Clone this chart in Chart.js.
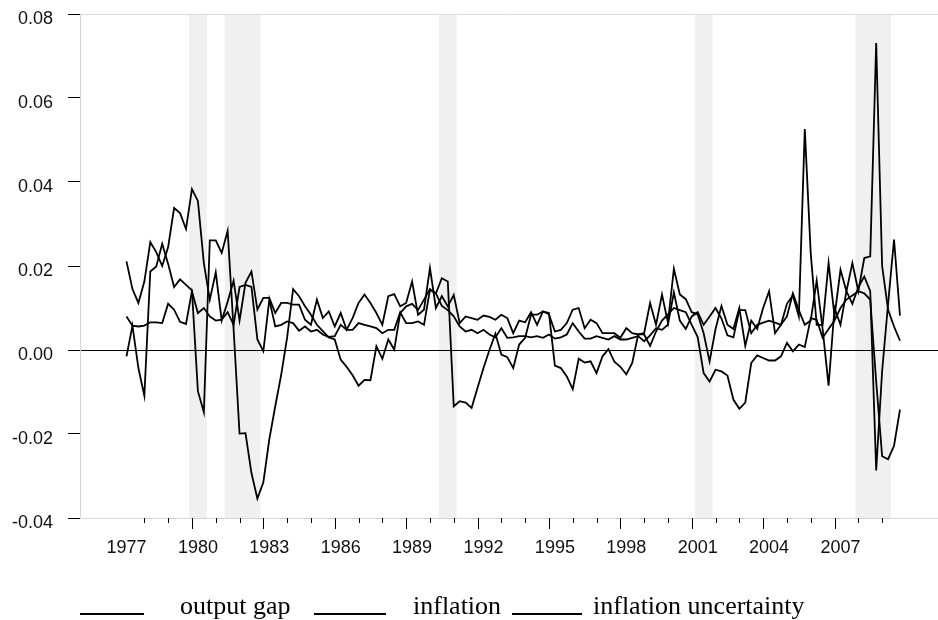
<!DOCTYPE html>
<html><head><meta charset="utf-8">
<script src="https://cdn.jsdelivr.net/npm/chart.js@4.4.1/dist/chart.umd.min.js"></script>
<style>html,body{margin:0;padding:0;background:#fff;}#wrap{width:938px;height:620px;position:relative;}</style>
</head><body><div id="wrap"><canvas id="c" width="938" height="620"></canvas></div>
<script>
// quarterly data, first observation 1977Q2
const startYear = 1977, startQuarter = 2;

const outputGap = [
 -0.0015, 0.0058,-0.0043,-0.0109, 0.0187, 0.0199, 0.0253, 0.0205, 0.0150, 0.0168,
  0.0155, 0.0142,-0.0098,-0.0148, 0.0261, 0.0261, 0.0231, 0.0284, 0.0050,-0.0199,
 -0.0198,-0.0293,-0.0354,-0.0315,-0.0213,-0.0134,-0.0059, 0.0030, 0.0145, 0.0128,
  0.0104, 0.0084, 0.0060, 0.0045, 0.0030, 0.0025,-0.0023,-0.0040,-0.0060,-0.0085,
 -0.0071,-0.0072, 0.0009,-0.0021, 0.0025, 0.0001, 0.0088, 0.0104, 0.0110, 0.0095,
  0.0120, 0.0145, 0.0135, 0.0171, 0.0163,-0.0134,-0.0122,-0.0125,-0.0138,-0.0090,
 -0.0043, 0.0000, 0.0039,-0.0011,-0.0017,-0.0043, 0.0013, 0.0029, 0.0084, 0.0084,
  0.0092, 0.0088,-0.0037,-0.0043,-0.0063,-0.0093,-0.0021,-0.0030,-0.0027,-0.0055,
 -0.0015, 0.0002,-0.0028,-0.0040,-0.0058,-0.0031, 0.0037, 0.0037, 0.0010, 0.0044,
  0.0070, 0.0085, 0.0100, 0.0095, 0.0090, 0.0060, 0.0031,-0.0055,-0.0075,-0.0047,
 -0.0051,-0.0061,-0.0118,-0.0140,-0.0125,-0.0031,-0.0013,-0.0019,-0.0025,-0.0025,
 -0.0015, 0.0017,-0.0003, 0.0013, 0.0007, 0.0076, 0.0072, 0.0029, 0.0050, 0.0070,
  0.0100, 0.0120, 0.0130, 0.0140, 0.0135, 0.0120,-0.0075,-0.0253,-0.0260,-0.0228,
 -0.0142
];

const inflation = [
  0.0211, 0.0145, 0.0112, 0.0163, 0.0257, 0.0233, 0.0200, 0.0245, 0.0338, 0.0326,
  0.0288, 0.0383, 0.0355, 0.0207, 0.0120, 0.0185, 0.0070, 0.0115, 0.0165, 0.0070,
  0.0160, 0.0187, 0.0096, 0.0124, 0.0124, 0.0088, 0.0112, 0.0112, 0.0108, 0.0108,
  0.0072, 0.0060, 0.0120, 0.0076, 0.0092, 0.0056, 0.0088, 0.0048, 0.0076, 0.0112,
  0.0132, 0.0112, 0.0088, 0.0060, 0.0128, 0.0133, 0.0104, 0.0112, 0.0163, 0.0084,
  0.0096, 0.0195, 0.0100, 0.0128, 0.0104, 0.0131, 0.0064, 0.0080, 0.0076, 0.0072,
  0.0082, 0.0079, 0.0072, 0.0084, 0.0076, 0.0040, 0.0070, 0.0066, 0.0090, 0.0060,
  0.0092, 0.0085, 0.0044, 0.0048, 0.0064, 0.0096, 0.0100, 0.0052, 0.0072, 0.0064,
  0.0040, 0.0040, 0.0040, 0.0029, 0.0052, 0.0040, 0.0037, 0.0040, 0.0112, 0.0060,
  0.0132, 0.0065, 0.0193, 0.0132, 0.0121, 0.0090, 0.0085, 0.0040,-0.0027, 0.0050,
  0.0105, 0.0060, 0.0050, 0.0100, 0.0010, 0.0070, 0.0050, 0.0100, 0.0140, 0.0040,
  0.0060, 0.0080, 0.0135, 0.0095, 0.0060, 0.0070, 0.0165, 0.0050,-0.0085, 0.0100,
  0.0060, 0.0140, 0.0110, 0.0150, 0.0175, 0.0140,-0.0287,-0.0050, 0.0110, 0.0263,
  0.0082
];

const inflationUncertainty = [
  0.0080, 0.0058, 0.0056, 0.0058, 0.0066, 0.0066, 0.0064, 0.0110, 0.0096, 0.0067,
  0.0062, 0.0140, 0.0088, 0.0100, 0.0080, 0.0070, 0.0072, 0.0090, 0.0060, 0.0150,
  0.0155, 0.0150, 0.0025,-0.0003, 0.0120, 0.0056, 0.0060, 0.0068, 0.0064, 0.0046,
  0.0056, 0.0044, 0.0048, 0.0037, 0.0031, 0.0033, 0.0060, 0.0048, 0.0048, 0.0064,
  0.0060, 0.0056, 0.0052, 0.0040, 0.0048, 0.0048, 0.0090, 0.0064, 0.0064, 0.0068,
  0.0060, 0.0143, 0.0135, 0.0105, 0.0095, 0.0080, 0.0056, 0.0044, 0.0048, 0.0040,
  0.0048, 0.0037, 0.0030, 0.0052, 0.0029, 0.0030, 0.0033, 0.0033, 0.0030, 0.0033,
  0.0029, 0.0037, 0.0027, 0.0030, 0.0037, 0.0064, 0.0044, 0.0027, 0.0027, 0.0033,
  0.0029, 0.0025, 0.0033, 0.0025, 0.0025, 0.0029, 0.0033, 0.0021, 0.0035, 0.0052,
  0.0048, 0.0060, 0.0137, 0.0070, 0.0050, 0.0080, 0.0090, 0.0060, 0.0080, 0.0100,
  0.0075, 0.0035, 0.0030, 0.0095, 0.0095, 0.0040, 0.0060, 0.0065, 0.0070, 0.0065,
  0.0060, 0.0110, 0.0130, 0.0080, 0.0526, 0.0230, 0.0060, 0.0060, 0.0207, 0.0080,
  0.0191, 0.0140, 0.0207, 0.0140, 0.0219, 0.0223, 0.0731, 0.0200, 0.0096, 0.0056,
  0.0022
];

const seriesNames = ['output gap', 'inflation', 'inflation uncertainty'];
const yTicks = [-0.04, -0.02, 0.00, 0.02, 0.04, 0.06, 0.08];
const yearLabels = ['1977','1980','1983','1986','1989','1992','1995','1998','2001','2004','2007'];
const recessions = [['1980Q1','1980Q3'], ['1981Q3','1982Q4'], ['1990Q3','1991Q1'], ['2001Q2','2001Q4'], ['2008Q1','2009Q2']];

const quarters = outputGap.map((_, i) => {
  const q = startQuarter - 1 + i;
  return (startYear + Math.floor(q / 4)) + 'Q' + (q % 4 + 1);
});
const qIndex = (label) => quarters.indexOf(label);
const toPoints = (arr) => arr.map((v, i) => ({x: i, y: v}));

const SANS = '"Liberation Sans", Arial, sans-serif';
const SERIF = '"Liberation Serif", "Times New Roman", serif';

const legendLayout = [
  {l0: 80, l1: 144, tx: 180},
  {l0: 314, l1: 386, tx: 413},
  {l0: 512, l1: 582, tx: 593}
];

const decor = {
  id: 'decor',
  beforeDraw(chart) {
    const {ctx, chartArea: a, scales: {x}} = chart;
    ctx.save();
    ctx.fillStyle = '#f0f0f0';
    recessions.forEach(([s, e]) => {
      const x0 = x.getPixelForValue(qIndex(s) - 0.5);
      const x1 = x.getPixelForValue(qIndex(e) + 0.5);
      ctx.fillRect(x0, a.top, x1 - x0, a.bottom - a.top);
    });
    ctx.restore();
  },
  afterDraw(chart) {
    const {ctx, chartArea: a, scales: {x}} = chart;
    ctx.save();
    ctx.strokeStyle = '#000';
    ctx.lineWidth = 1;
    quarters.forEach((q, i) => {
      if (q.endsWith('Q1')) {
        const yr = q.slice(0, 4);
        const len = yearLabels.includes(yr) ? 11 : 5;
        const px = Math.round(x.getPixelForValue(i)) + 0.5;
        ctx.beginPath();
        ctx.moveTo(px, a.bottom);
        ctx.lineTo(px, a.bottom + len);
        ctx.stroke();
      }
    });
    // legend
    ctx.lineWidth = 2;
    ctx.fillStyle = '#000';
    ctx.font = '26px ' + SERIF;
    ctx.textBaseline = 'alphabetic';
    chart.data.datasets.forEach((ds, k) => {
      const L = legendLayout[k];
      ctx.beginPath();
      ctx.moveTo(L.l0, 614);
      ctx.lineTo(L.l1, 614);
      ctx.stroke();
      ctx.fillText(ds.label, L.tx, 614);
    });
    ctx.restore();
  }
};

const mk = (label, arr) => ({
  label, data: toPoints(arr), borderColor: '#000', borderWidth: 1.8,
  pointRadius: 0, tension: 0, fill: false
});

new Chart(document.getElementById('c'), {
  type: 'line',
  data: {
    datasets: [
      mk(seriesNames[0], outputGap),
      mk(seriesNames[1], inflation),
      mk(seriesNames[2], inflationUncertainty)
    ]
  },
  options: {
    responsive: false,
    devicePixelRatio: 1,
    animation: false,
    layout: {padding: {top: 14, right: 0, left: 0, bottom: 0}},
    plugins: {legend: {display: false}, tooltip: {enabled: false}},
    scales: {
      x: {
        type: 'linear', min: -7.815, max: 136.39,
        afterBuildTicks(s) { s.ticks = yearLabels.map(y => ({value: qIndex(y + 'Q2')})); },
        afterFit(s) { s.height = 102; s.paddingLeft = 0; s.paddingRight = 0; },
        ticks: {
          autoSkip: false, maxRotation: 0, padding: 19, color: '#111',
          font: {family: SANS, size: 18},
          callback: (v) => quarters[v] ? quarters[v].slice(0, 4) : ''
        },
        grid: {color: 'rgba(0,0,0,0)', drawTicks: false},
        border: {display: true, color: '#d6d6d6', width: 1}
      },
      y: {
        min: -0.04, max: 0.08,
        afterBuildTicks(s) { s.ticks = yTicks.map(v => ({value: v})); },
        afterFit(s) { s.width = 80; s.paddingTop = 0; s.paddingBottom = 0; },
        ticks: {
          padding: 15, labelOffset: 5, color: '#111', font: {family: SANS, size: 18},
          callback: (v) => Number(v).toFixed(2)
        },
        grid: {
          drawTicks: true, tickLength: 12, tickColor: '#000', lineWidth: 1,
          color: (c) => (c.tick && c.tick.value === 0.08) ? '#d9d9d9' :
                        ((c.tick && c.tick.value === 0) ? '#000' : 'rgba(0,0,0,0)')
        },
        border: {display: true, color: '#d6d6d6', width: 1}
      }
    }
  },
  plugins: [decor]
});
</script>
</body></html>
